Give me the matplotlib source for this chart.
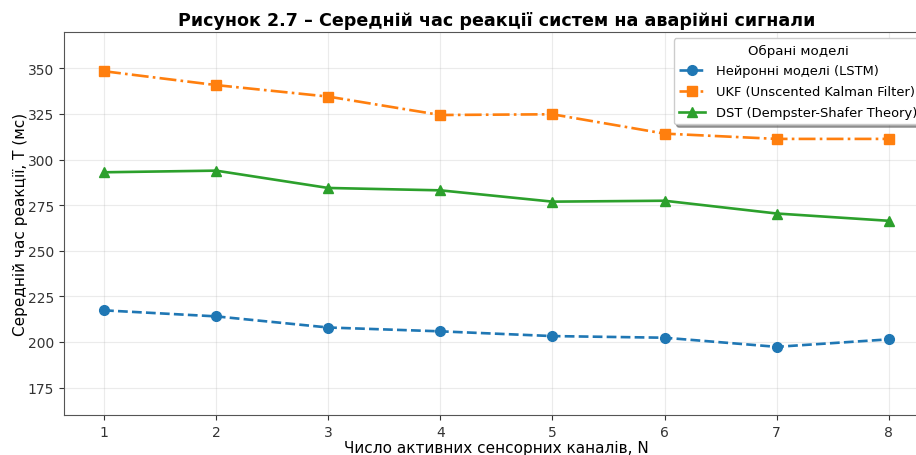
import matplotlib
matplotlib.use("Agg")
import matplotlib.pyplot as plt

channels = [1, 2, 3, 4, 5, 6, 7, 8]
lstm = [217.3, 214.0, 207.9, 205.8, 203.2, 202.3, 197.3, 201.4]
ukf = [348.4, 340.8, 334.5, 324.4, 324.8, 314.2, 311.3, 311.3]
dst = [293.0, 293.9, 284.4, 283.1, 276.9, 277.4, 270.4, 266.4]

labels = ["Нейронні моделі (LSTM)", "UKF (Unscented Kalman Filter)", "DST (Dempster-Shafer Theory)"]
yticks = [175, 200, 225, 250, 275, 300, 325, 350]

plt.rcParams['font.family'] = ['DejaVu Sans']
fig = plt.figure(figsize=(9.16, 4.56), dpi=100)
ax = fig.add_axes([0.0699, 0.088, 0.944, 0.84])

ax.plot(channels, lstm, linestyle='--', marker='o', color='#1f77b4', lw=1.9, ms=7, label=labels[0])
ax.plot(channels, ukf, linestyle='-.', marker='s', color='#ff7f0e', lw=1.9, ms=7, label=labels[1])
ax.plot(channels, dst, linestyle='-', marker='^', color='#2ca02c', lw=1.9, ms=7, label=labels[2])

ax.set_xlim(0.643, 8.357)
ax.set_ylim(160, 370)
ax.set_xticks(channels)
ax.set_yticks(yticks)
ax.grid(True, alpha=0.25)
for s in ax.spines.values():
    s.set_color('#555555')
ax.tick_params(labelsize=10, colors='#333333')

ax.set_title("Рисунок 2.7 – Середній час реакції систем на аварійні сигнали", fontsize=12.6, fontweight='bold', pad=5)
ax.set_xlabel("Число активних сенсорних каналів, N", fontsize=11, labelpad=1)
ax.set_ylabel("Середній час реакції, T (мс)", fontsize=11, labelpad=0)
leg = ax.legend(title="Обрані моделі", loc='upper right', fontsize=9.4, title_fontsize=9.6,
                shadow=True, frameon=True, labelspacing=0.6, handlelength=2.0)

fig.savefig("out.png", dpi=100)
